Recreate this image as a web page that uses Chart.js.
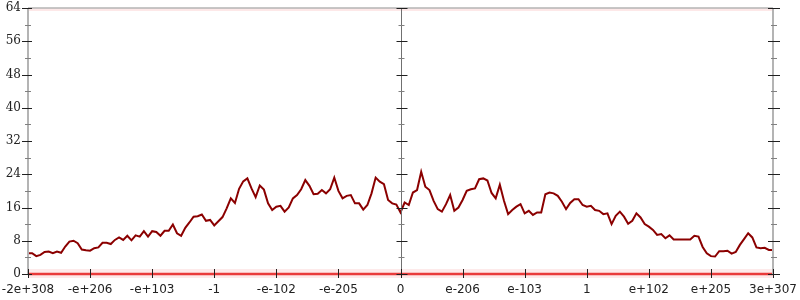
<!DOCTYPE html>
<html>
<head>
<meta charset="utf-8">
<script src="https://cdn.jsdelivr.net/npm/chart.js@4.4.1/dist/chart.umd.min.js"></script>
<style>
  html, body { margin: 0; padding: 0; background: #fff; }
  #wrap { width: 800px; height: 300px; }
</style>
</head>
<body>
<div id="wrap"><canvas id="myChart" width="800" height="300"></canvas></div>
<script>
// tick labels of the x axis (13 evenly spaced positions)
const xLabels = ['-2e+308', '-e+206', '-e+103', '-1', '-e-102', '-e-205', '0',
                 'e-206', 'e-103', '1', 'e+102', 'e+205', '3e+307'];
const yMin = 0;
const yMax = 64;
const yStep = 8;

// series values, 181 samples
const values = [
  5.0, 5.0, 4.3, 4.6, 5.3, 5.4, 5.0, 5.4, 5.1, 6.6,
  7.8, 8.0, 7.4, 5.9, 5.7, 5.6, 6.2, 6.4, 7.5, 7.5,
  7.2, 8.2, 8.8, 8.2, 9.2, 8.1, 9.3, 9.0, 10.3, 9.0,
  10.3, 10.1, 9.2, 10.4, 10.4, 11.9, 9.8, 9.2, 11.1, 12.4,
  13.8, 13.9, 14.3, 12.8, 13.0, 11.7, 12.7, 13.7, 15.8, 18.2,
  17.1, 20.5, 22.3, 23.0, 20.6, 18.5, 21.3, 20.3, 17.0, 15.4,
  16.2, 16.4, 15.0, 16.0, 18.2, 19.0, 20.4, 22.6, 21.2, 19.2,
  19.3, 20.2, 19.4, 20.4, 23.2, 20.0, 18.2, 18.8, 19.0, 17.0,
  17.0, 15.5, 16.6, 19.4, 23.2, 22.2, 21.6, 17.8, 17.0, 16.7,
  14.8, 17.2, 16.6, 19.6, 20.2, 24.6, 21.0, 20.2, 17.6, 15.6,
  15.0, 16.8, 19.0, 15.2, 16.0, 17.8, 20.0, 20.4, 20.6, 22.8,
  23.0, 22.5, 19.5, 18.2, 21.5, 17.6, 14.4, 15.4, 16.2, 16.8,
  14.6, 15.2, 14.2, 14.8, 14.8, 19.2, 19.6, 19.4, 18.8, 17.4,
  15.6, 17.1, 18.0, 18.0, 16.6, 16.2, 16.4, 15.4, 15.2, 14.4,
  14.6, 12.0, 14.0, 15.0, 13.8, 12.1, 12.8, 14.6, 13.6, 12.0,
  11.4, 10.6, 9.4, 9.6, 8.6, 9.3, 8.3, 8.3, 8.3, 8.3,
  8.3, 9.2, 9.0, 6.5, 5.0, 4.3, 4.2, 5.5, 5.5, 5.6,
  4.9, 5.3, 7.0, 8.4, 9.8, 8.8, 6.4, 6.2, 6.3, 5.8,
  5.8
];

const xStep = (values.length - 1) / (xLabels.length - 1);

// keep the plot area fixed: no extra room for overhanging labels
function noPad(scale) {
  scale.paddingLeft = 0;
  scale.paddingRight = 0;
  scale.paddingTop = 0;
  scale.paddingBottom = 0;
}

// axis lines, crossing tick marks and the red bands at 0 and 64
const axisDeco = {
  id: 'axisDeco',
  beforeDatasetsDraw(chart) {
    const ctx = chart.ctx;
    const a = chart.chartArea;
    const y = chart.scales.y;
    const y0 = y.getPixelForValue(yMin);
    const y64 = y.getPixelForValue(yMax);
    ctx.save();
    // faint band at top
    ctx.fillStyle = 'rgba(240,80,80,0.13)';
    ctx.fillRect(a.left, y64, a.right - a.left, 3);
    // band at bottom
    ctx.fillStyle = 'rgba(240,80,80,0.12)';
    ctx.fillRect(a.left, y0 - 5, a.right - a.left, 9);
    ctx.strokeStyle = 'rgba(232,40,40,0.9)';
    ctx.lineWidth = 2.5;
    ctx.beginPath();
    ctx.moveTo(a.left, y0);
    ctx.lineTo(a.right, y0);
    ctx.stroke();
    ctx.restore();
  },
  afterDatasetsDraw(chart) {
    const ctx = chart.ctx;
    const a = chart.chartArea;
    const x = chart.scales.x;
    const y = chart.scales.y;
    const cx = Math.round(x.getPixelForValue((values.length - 1) / 2)) + 0.5;
    ctx.save();
    // gray frame lines
    ctx.strokeStyle = '#b4b4b4';
    ctx.lineWidth = 2;
    ctx.beginPath();
    ctx.moveTo(a.left, a.top); ctx.lineTo(a.left, a.bottom);
    ctx.moveTo(a.right, a.top); ctx.lineTo(a.right, a.bottom);
    ctx.stroke();
    ctx.lineWidth = 1.5;
    ctx.beginPath();
    ctx.moveTo(a.left, a.top); ctx.lineTo(a.right, a.top);
    ctx.stroke();
    // center axis
    ctx.strokeStyle = '#707070';
    ctx.lineWidth = 1;
    ctx.beginPath();
    ctx.moveTo(cx, a.top); ctx.lineTo(cx, a.bottom);
    ctx.stroke();
    // y ticks on the three vertical axes
    for (let v = yMin; v <= yMax; v += yStep / 2) {
      const py = Math.round(y.getPixelForValue(v)) + 0.5;
      const major = v % yStep === 0;
      ctx.strokeStyle = major ? '#202020' : '#808080';
      ctx.lineWidth = 1;
      ctx.beginPath();
      if (major) {
        ctx.moveTo(a.left - 6, py); ctx.lineTo(a.left + 4, py);
        ctx.moveTo(a.right - 5, py); ctx.lineTo(a.right + 7, py);
        ctx.moveTo(cx - 5, py); ctx.lineTo(cx + 6, py);
      } else {
        ctx.moveTo(a.left - 3, py); ctx.lineTo(a.left + 3, py);
        ctx.moveTo(a.right - 2, py); ctx.lineTo(a.right + 4, py);
        ctx.moveTo(cx - 3, py); ctx.lineTo(cx + 3, py);
      }
      ctx.stroke();
    }
    // x ticks
    ctx.strokeStyle = '#202020';
    ctx.lineWidth = 1;
    for (let i = 0; i < xLabels.length; i++) {
      const px = Math.round(x.getPixelForValue(i * xStep)) + 0.5;
      ctx.beginPath();
      ctx.moveTo(px, a.bottom - 5);
      ctx.lineTo(px, a.bottom + 4);
      ctx.stroke();
    }
    ctx.restore();
  }
};

const ctx = document.getElementById('myChart');
const chart = new Chart(ctx, {
  type: 'line',
  data: {
    datasets: [{
      data: values.map((v, i) => ({ x: i, y: v })),
      borderColor: '#8b0000',
      borderWidth: 2,
      pointRadius: 0,
      tension: 0,
      fill: false
    }]
  },
  options: {
    responsive: false,
    animation: false,
    devicePixelRatio: 1,
    layout: { padding: { top: 8, left: 0, right: 0, bottom: 0 } },
    plugins: { legend: { display: false }, tooltip: { enabled: false } },
    scales: {
      x: {
        type: 'linear',
        min: 0,
        max: values.length - 1,
        grid: { display: false, tickLength: 0 },
        border: { display: false },
        afterBuildTicks(scale) {
          scale.ticks = xLabels.map((l, i) => ({ value: i * xStep }));
        },
        afterFit(scale) { scale.height = 26; noPad(scale); },
        ticks: {
          autoSkip: false,
          maxRotation: 0,
          padding: 9,
          color: '#222',
          font: { family: 'DejaVu Sans', size: 12 },
          callback: (v) => xLabels[Math.round(v / xStep)]
        }
      },
      y: {
        min: yMin,
        max: yMax,
        grid: { display: false, tickLength: 0 },
        border: { display: false },
        afterFit(scale) { scale.width = 28; noPad(scale); },
        ticks: {
          stepSize: yStep,
          padding: 7,
          color: '#222',
          font: { family: 'DejaVu Serif', size: 12 }
        }
      },
      y2: {
        position: 'right',
        min: yMin,
        max: yMax,
        grid: { display: false, tickLength: 0 },
        border: { display: false },
        ticks: { display: false },
        afterFit(scale) { scale.width = 27; noPad(scale); }
      }
    }
  },
  plugins: [axisDeco]
});
</script>
</body>
</html>
